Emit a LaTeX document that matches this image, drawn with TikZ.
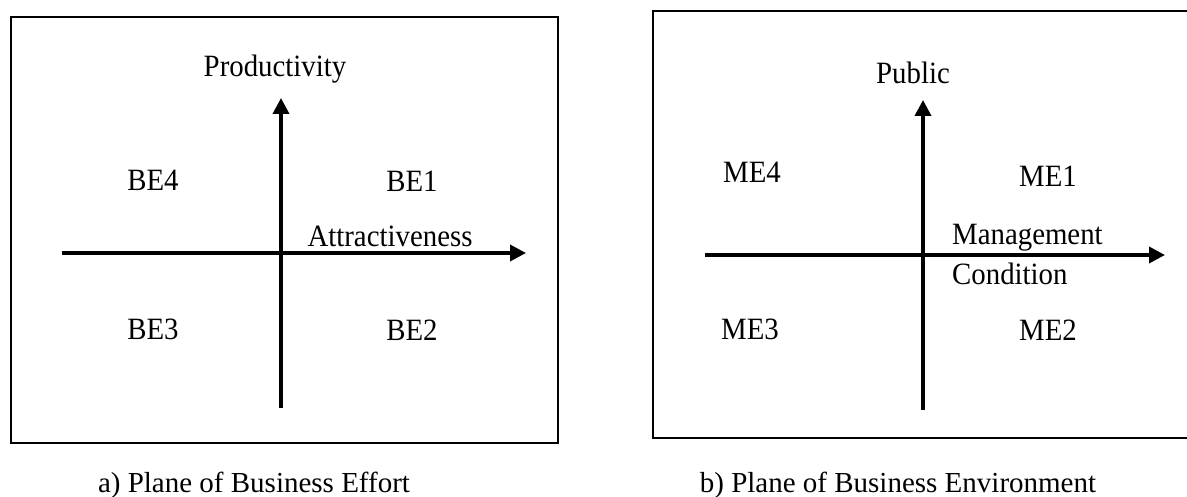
\documentclass[tikz,border=0pt]{standalone}
\usepackage{fontspec}
\setmainfont{Liberation Serif}[FakeStretch=0.93]
\newfontfamily\capfont{Liberation Serif}
\usetikzlibrary{arrows.meta}
\tikzset{
  frame/.style={draw=black, line width=1.6pt},
  axis/.style={line width=3.6pt, -{Triangle[length=16pt,width=16pt]}},
  lbl/.style={inner sep=0pt, anchor=base, font=\fontsize{31}{36}\selectfont},
  axlbl/.style={inner sep=0pt, anchor=base west, font=\fontsize{31}{36}\selectfont},
  captext/.style={inner sep=0pt, anchor=base, font=\capfont\fontsize{29}{34}\selectfont}
}
\begin{document}
\begin{tikzpicture}[x=1pt,y=-1pt]
\useasboundingbox (0,0) rectangle (1187,497);
% left panel
\draw[frame] (11,17) rectangle (558,443);
\coordinate (la) at (62,253);
\coordinate (lb) at (526,253);
\coordinate (lc) at (281,408);
\coordinate (ld) at (281,98);
\draw[axis] (la) -- (lb);
\draw[axis] (lc) -- (ld);
\node[lbl] (prod) at (275,77) {Productivity};
\node[lbl] (attr) at (390,247) {Attractiveness};
\node[lbl] (be4) at (153,191) {BE4};
\node[lbl] (be1) at (412,192) {BE1};
\node[lbl] (be3) at (153,339) {BE3};
\node[lbl] (be2) at (412,341) {BE2};
\node[captext] (capa) at (254,492) {a) Plane of Business Effort};
% right panel
\coordinate (rtr) at (1192,11);
\coordinate (rtl) at (653,11);
\coordinate (rbl) at (653,438);
\coordinate (rbr) at (1192,438);
\draw[frame] (rtr) -- (rtl) -- (rbl) -- (rbr);
\coordinate (ra) at (705,255);
\coordinate (rb) at (1165,255);
\coordinate (rc) at (923,410);
\coordinate (rd) at (923,100);
\draw[axis] (ra) -- (rb);
\draw[axis] (rc) -- (rd);
\node[lbl] (pub) at (913,84) {Public};
\node[axlbl] (mgmt) at (952,245) {Management};
\node[axlbl] (cond) at (952,285) {Condition};
\node[lbl] (me4) at (752,183) {ME4};
\node[lbl] (me1) at (1048,187) {ME1};
\node[lbl] (me3) at (750,339) {ME3};
\node[lbl] (me2) at (1048,341) {ME2};
\node[captext] (capb) at (898,492) {b) Plane of Business Environment};
\end{tikzpicture}
\end{document}
